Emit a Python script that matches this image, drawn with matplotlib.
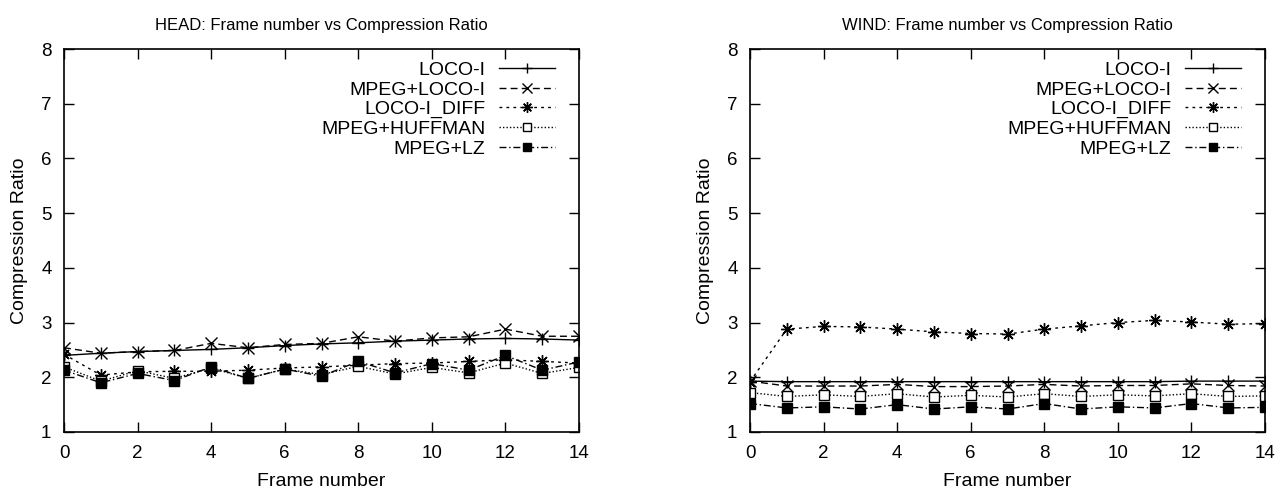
import numpy as np
import matplotlib
matplotlib.use("Agg")
import matplotlib.pyplot as plt

plt.rcParams['font.family'] = ['Liberation Sans', 'DejaVu Sans']
plt.rcParams['font.size'] = 13

frames = list(range(15))
labels = ["LOCO-I", "MPEG+LOCO-I", "LOCO-I_DIFF", "MPEG+HUFFMAN", "MPEG+LZ"]

# HEAD sequence
head_loco = [2.40, 2.44, 2.47, 2.49, 2.51, 2.54, 2.58, 2.61, 2.63, 2.66, 2.68, 2.70, 2.71, 2.70, 2.68]
head_mpeg_loco = [2.54, 2.44, 2.47, 2.49, 2.62, 2.54, 2.60, 2.62, 2.74, 2.66, 2.72, 2.74, 2.88, 2.75, 2.75]
head_loco_diff = [2.42, 2.04, 2.10, 2.11, 2.11, 2.13, 2.17, 2.19, 2.22, 2.25, 2.26, 2.29, 2.32, 2.29, 2.26]
head_huffman = [2.19, 1.93, 2.12, 1.98, 2.17, 1.98, 2.15, 2.05, 2.20, 2.06, 2.18, 2.08, 2.26, 2.07, 2.18]
head_lz = [2.13, 1.90, 2.07, 1.94, 2.19, 1.98, 2.15, 2.02, 2.29, 2.08, 2.25, 2.13, 2.40, 2.13, 2.28]

# WIND sequence
wind_loco = [1.93, 1.92, 1.92, 1.92, 1.92, 1.92, 1.92, 1.92, 1.92, 1.92, 1.92, 1.92, 1.93, 1.93, 1.93]
wind_mpeg_loco = [1.93, 1.84, 1.84, 1.84, 1.87, 1.83, 1.83, 1.84, 1.87, 1.84, 1.85, 1.85, 1.88, 1.85, 1.84]
wind_loco_diff = [1.92, 2.88, 2.93, 2.92, 2.88, 2.83, 2.80, 2.79, 2.88, 2.94, 3.00, 3.04, 3.01, 2.97, 2.98]
wind_huffman = [1.72, 1.65, 1.68, 1.65, 1.70, 1.64, 1.67, 1.64, 1.70, 1.65, 1.68, 1.66, 1.70, 1.65, 1.66]
wind_lz = [1.52, 1.44, 1.46, 1.42, 1.50, 1.42, 1.46, 1.42, 1.52, 1.42, 1.46, 1.44, 1.52, 1.44, 1.45]

styles = [
    dict(ls="-", marker="+", ms=9, mew=1),
    dict(ls=(0, (5, 3)), marker="x", ms=8, mew=1),
    dict(ls=(0, (2, 3)), marker=(8, 2, 0), ms=9, mew=1),
    dict(ls=(0, (1, 1.5)), marker="s", ms=7, mfc="white", mew=1),
    dict(ls=(0, (5, 2, 1, 2)), marker="s", ms=7, mfc="black", mew=1),
]


def draw(ax, series, title):
    for vals, lab, st in zip(series, labels, styles):
        ax.plot(frames, vals, color="black", lw=1, label=lab, **st)
    ax.set_xlim(0, 14)
    ax.set_ylim(1, 8)
    ax.set_xticks(range(0, 15, 2))
    ax.set_yticks(range(1, 9))
    ax.tick_params(direction="in", length=7, width=1, top=True, right=True,
                   labelsize=13.5)
    ax.tick_params(axis="x", pad=9)
    ax.tick_params(axis="y", pad=9)
    for sp in ax.spines.values():
        sp.set_linewidth(1.2)
    ax.set_xlabel("Frame number", labelpad=8, fontsize=14)
    ax.set_ylabel("Compression Ratio", labelpad=9, fontsize=14)
    ax.set_title(title, pad=14, fontsize=12)
    leg = ax.legend(loc="upper right", bbox_to_anchor=(1 - 8 / 515, 1 + 3 / 383),
                    frameon=False, markerfirst=False,
                    handlelength=2.9, labelspacing=0.1, borderaxespad=0.5,
                    borderpad=0.3, handletextpad=0.7, fontsize=14)
    for h in leg.legend_handles:
        h.set_markersize(h.get_markersize() * 0.85)


fig = plt.figure(figsize=(12.82, 4.92), dpi=100)
ax1 = fig.add_axes([64 / 1282, 60 / 492, 515 / 1282, 383 / 492])
ax2 = fig.add_axes([750 / 1282, 60 / 492, 515 / 1282, 383 / 492])

draw(ax1, [head_loco, head_mpeg_loco, head_loco_diff, head_huffman, head_lz],
     "HEAD: Frame number vs Compression Ratio")
draw(ax2, [wind_loco, wind_mpeg_loco, wind_loco_diff, wind_huffman, wind_lz],
     "WIND: Frame number vs Compression Ratio")

fig.savefig("out.png", dpi=100)
